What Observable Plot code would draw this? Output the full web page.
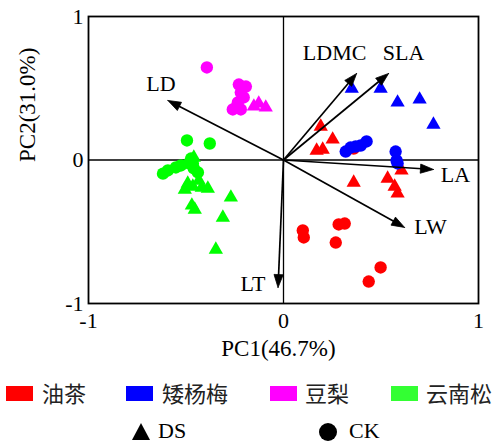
<!DOCTYPE html>
<html>
<head>
<meta charset="utf-8">
<script src="https://cdn.jsdelivr.net/npm/d3@7"></script>
<script src="https://cdn.jsdelivr.net/npm/@observablehq/plot@0.6"></script>
<style>
  html, body { margin: 0; padding: 0; background: white; }
  #wrap { position: relative; width: 497px; height: 444px; overflow: hidden; }
  .serif { font-family: "Liberation Serif", "Times New Roman", serif; }
  .cjk { font-family: "Noto Sans CJK SC", sans-serif; }
  .abs { position: absolute; line-height: 1; white-space: nowrap; }
</style>
</head>
<body>
<div id="wrap"></div>
<script>
// ---------- data ----------
const species = ["油茶", "矮杨梅", "豆梨", "云南松"];
const speciesColors = ["#ff0000", "#0000ff", "#ff00ff", "#00ff00"];
const legendColors = ["#ff0000", "#0000ff", "#ff00ff", "#33ff33"];
const treatments = ["DS", "CK"];
const axisTicks = [-1, 0, 1];
const xTitle = "PC1(46.7%)";
const yTitle = "PC2(31.0%)";

// scores [PC1, PC2]
const youcha_DS = [[0.191,0.233],[0.252,0.143],[0.170,0.066],[0.201,0.073],[0.360,-0.157],[0.534,-0.129],[0.570,-0.185],[0.585,-0.233],[0.605,-0.073]];
const youcha_CK = [[0.099,-0.491],[0.104,-0.540],[0.268,-0.575],[0.283,-0.449],[0.314,-0.443],[0.498,-0.749],[0.437,-0.847],[0.360,0.080]];
const aiyangmei_DS = [[0.350,0.498],[0.498,0.498],[0.585,0.401],[0.698,0.422],[0.769,0.247]];
const aiyangmei_CK = [[0.319,0.059],[0.344,0.087],[0.370,0.094],[0.396,0.101],[0.426,0.129],[0.575,0.059],[0.580,-0.003],[0.585,-0.024]];
const douli_DS = [[-0.152,0.373],[-0.127,0.394],[-0.091,0.366]];
const douli_CK = [[-0.393,0.645],[-0.229,0.526],[-0.193,0.512],[-0.219,0.470],[-0.204,0.436],[-0.234,0.401],[-0.260,0.352],[-0.219,0.352],[-0.239,0.373]];
const yunnansong_DS = [[-0.460,0.017],[-0.491,-0.164],[-0.506,-0.206],[-0.465,-0.185],[-0.419,-0.192],[-0.388,-0.199],[-0.434,-0.143],[-0.270,-0.261],[-0.470,-0.317],[-0.455,-0.345],[-0.311,-0.401],[-0.347,-0.624]];
const yunnansong_CK = [[-0.495,0.136],[-0.378,0.115],[-0.618,-0.095],[-0.593,-0.073],[-0.552,-0.052],[-0.526,-0.038],[-0.485,-0.024],[-0.465,-0.024],[-0.460,-0.059],[-0.439,-0.087],[-0.474,0.010]];

// loadings
const traits = ["LD", "LDMC", "SLA", "LA", "LW", "LT"];
const loadPC1 = [-0.593, 0.375, 0.539, 0.769, 0.621, -0.028];
const loadPC2 = [0.415, 0.603, 0.603, -0.066, -0.470, -0.889];

// ---------- build tables ----------
const groups = [
  [0, "DS", youcha_DS], [0, "CK", youcha_CK],
  [1, "DS", aiyangmei_DS], [1, "CK", aiyangmei_CK],
  [2, "DS", douli_DS], [2, "CK", douli_CK],
  [3, "DS", yunnansong_DS], [3, "CK", yunnansong_CK]
];
const points = [];
for (const [s, t, arr] of groups) for (const [a, b] of arr) points.push({pc1: a, pc2: b, sp: species[s], tr: t});

// ---------- layout ----------
const W = 497, H = 365;
const mL = 88, mR = 19, mT = 16, mB = 62;
const kx = (W - mL - mR) / 2;   // px per unit
const ky = (H - mT - mB) / 2;

// arrows
const headLen = 13, headHalf = 4.6;
const shafts = [], heads = [], labels = [];
const labelOff = {LD: [-7, -16], LDMC: [-22, -21], SLA: [15, -21], LA: [22, 5], LW: [26, 0], LT: [-25, -4]};
traits.forEach((name, i) => {
  const tx = loadPC1[i], ty = loadPC2[i];
  let sx = tx * kx, sy = -ty * ky;
  const len = Math.hypot(sx, sy);
  const ux = sx / len, uy = sy / len;
  const nx = -uy, ny = ux;
  const toData = (px, py) => [tx + px / kx, ty - py / ky];
  const base = toData(-headLen * ux, -headLen * uy);
  shafts.push({x1: 0, y1: 0, x2: base[0] + 1.5 * ux / kx, y2: base[1] - 1.5 * uy / ky});
  const l = toData(-headLen * ux + headHalf * nx, -headLen * uy + headHalf * ny);
  const r = toData(-headLen * ux - headHalf * nx, -headLen * uy - headHalf * ny);
  heads.push({k: name, x: tx, y: ty}, {k: name, x: l[0], y: l[1]}, {k: name, x: r[0], y: r[1]}, {k: name, x: tx, y: ty});
  const o = labelOff[name];
  const lp = toData(o[0], o[1]);
  labels.push({name, x: lp[0], y: lp[1]});
});

const fmt = d => (d < 0 ? "-" + Math.abs(d) : String(d));
const colorScale = {domain: species, range: speciesColors};

const plot = Plot.plot({
  width: W, height: H,
  marginLeft: mL, marginRight: mR, marginTop: mT, marginBottom: mB,
  style: {fontFamily: "'Liberation Serif', 'Times New Roman', serif", fontSize: "22px", color: "black", background: "white", overflow: "visible"},
  x: {domain: [-1, 1], ticks: axisTicks, tickSize: 0, tickPadding: 9, tickFormat: fmt, label: null},
  y: {domain: [-1, 1], ticks: axisTicks, tickSize: 0, tickPadding: 5, tickFormat: fmt, label: null},
  color: colorScale,
  marks: [
    Plot.ruleX([0], {stroke: "black", strokeWidth: 1.3}),
    Plot.ruleY([0], {stroke: "black", strokeWidth: 1.3}),
    Plot.dot(points.filter(d => d.tr === "DS"), {x: "pc1", y: "pc2", fill: "sp", symbol: "triangle", r: 5.3, stroke: null}),
    Plot.dot(points.filter(d => d.tr === "CK"), {x: "pc1", y: "pc2", fill: "sp", symbol: "circle", r: 6.2, stroke: null}),
    Plot.link(shafts, {x1: "x1", y1: "y1", x2: "x2", y2: "y2", stroke: "black", strokeWidth: 1.7}),
    Plot.line(heads, {x: "x", y: "y", z: "k", fill: "black", stroke: "black", strokeWidth: 0.8}),
    Plot.text(labels, {x: "x", y: "y", text: "name", fontSize: 22, fill: "black"}),
    Plot.text([xTitle], {frameAnchor: "bottom", dy: 52, dx: -5, fontSize: 23, fill: "black"}),
    Plot.text([yTitle], {frameAnchor: "left", rotate: -90, dx: -61, dy: 2, fontSize: 23, fill: "black"}),
    Plot.frame({stroke: "black", strokeWidth: 1.8})
  ]
});
plot.style.position = "absolute";
plot.style.left = "0px";
plot.style.top = "0px";
const wrap = document.getElementById("wrap");
wrap.appendChild(plot);

// ---------- legend (below the svg) ----------
const boxLeft = [6, 126, 270, 391];
const textLeft = [42, 162, 305, 426];
species.forEach((s, i) => {
  const b = document.createElement("div");
  b.className = "abs";
  Object.assign(b.style, {left: boxLeft[i] + "px", top: "386px", width: "27px", height: "15px", background: legendColors[i]});
  wrap.appendChild(b);
  const t = document.createElement("div");
  t.className = "abs cjk";
  t.textContent = s;
  Object.assign(t.style, {left: textLeft[i] + "px", top: "381px", fontSize: "22px", color: "#222"});
  wrap.appendChild(t);
});
// shape legend
const symLeft = [132, 319];
const symText = [158, 349];
treatments.forEach((tr, i) => {
  const svgNS = "http://www.w3.org/2000/svg";
  const s = document.createElementNS(svgNS, "svg");
  s.setAttribute("width", 20); s.setAttribute("height", 20);
  s.style.position = "absolute"; s.style.left = symLeft[i] + "px"; s.style.top = "422px";
  if (tr === "DS") {
    const p = document.createElementNS(svgNS, "path");
    p.setAttribute("d", "M9,1L18,18L0,18Z"); p.setAttribute("fill", "black");
    s.appendChild(p);
  } else {
    const c = document.createElementNS(svgNS, "circle");
    c.setAttribute("cx", 9); c.setAttribute("cy", 10); c.setAttribute("r", 9); c.setAttribute("fill", "black");
    s.appendChild(c);
  }
  wrap.appendChild(s);
  const t = document.createElement("div");
  t.className = "abs serif";
  t.textContent = tr;
  Object.assign(t.style, {left: symText[i] + "px", top: "420px", fontSize: "22px", color: "black"});
  wrap.appendChild(t);
});
</script>
</body>
</html>
